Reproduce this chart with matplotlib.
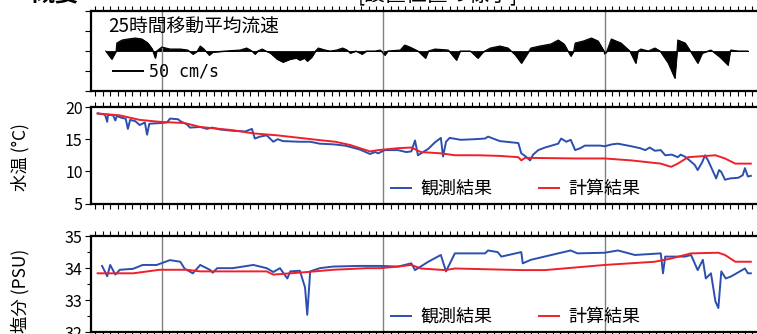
import numpy as np
import matplotlib.pyplot as plt
from matplotlib.ticker import MultipleLocator

plt.rcParams['font.family'] = ['Noto Sans CJK JP', 'DejaVu Sans']

# 25-hour moving average current (day, cm/s)
vel_day = [2.0, 2.8, 3.4, 3.5, 4.2, 5.0, 6.0, 6.9, 7.7, 8.3, 8.7, 8.9, 9.6, 10.7, 12.1, 13.1,
           13.8, 14.4, 14.8, 15.3, 16.0, 16.5, 18.2, 20.2, 21.1, 21.8, 22.2, 22.6, 23.2, 23.7,
           24.3, 25.2, 26.0, 27.0, 27.8, 28.3, 28.9, 29.3, 29.9, 30.4, 30.8, 31.7, 32.4, 33.3,
           34.1, 34.7, 35.1, 35.9, 36.7, 37.3, 38.5, 39.2, 39.8, 40.2, 41.9, 42.5, 43.2, 44.3,
           45.3, 45.7, 46.6, 48.4, 49.5, 50.0, 51.4, 52.4, 53.1, 54.1, 55.4, 56.5, 57.5, 58.3,
           58.9, 59.6, 60.8, 62.3, 63.3, 64.1, 65.0, 65.4, 65.6, 66.7, 67.8, 68.7, 69.5, 69.6,
           69.9, 70.5, 71.8, 73.0, 73.8, 74.1, 74.5, 75.5, 76.4, 77.1, 78.2, 79.1, 79.4, 79.5,
           80.5, 81.2, 82.2, 82.8, 84.0, 85.2, 86.3, 86.6, 86.7, 87.7, 89.0]
vel = [0, -12, 0, 12, 16.5, 18, 19.5, 18, 12, 3, -10.5, 0, 6, 3, 3, 1.5,
       -4.5, 0, 7.5, 3, -6, -1.5, 0, 1.5, 4.5, 0, -4.5, 0, 3, 0,
       -3, -12, -16.5, -12, -10.5, -13.5, -10.5, -15, -9, 0, 4.5, 1.5, 0, 1.5,
       4.5, 1.5, -3, 0, -4.5, 0, 0, 1.5, -6, 0, 1.5, 9, 6, 0,
       -10.5, 0, 3, 1.5, -13.5, 0, 0, -10.5, -1.5, 4.5, 7.5, 4.5, -6, -18,
       -7.5, 4.5, 7.5, 10.5, 16.5, 10.5, -7.5, 0, 12, 15, 19.5, 15, 0, -4.5,
       0, 18, 12, 0, -18, 0, 3, 0, 4.5, 0, -18, -40.5, 0, 16.5,
       12, 0, -18, -3, 1.5, -9, -21, 0, 1.5, 0, 0]

# water temperature
t_obs_day = [0.9, 1.5, 1.9, 2.2, 2.3, 3.0, 3.3, 3.5, 4.2, 4.7, 5.0, 5.3, 6.0, 6.6, 7.3, 7.6, 7.9,
             9.3, 10.3, 10.7, 11.8, 12.1, 13.0, 13.4, 14.8, 15.7, 16.4, 17.5, 19.2, 20.9, 21.8,
             22.2, 22.9, 23.8, 24.7, 25.3, 26.0, 28.3, 29.7, 31.0, 32.8, 34.4, 35.1, 36.4, 37.8,
             38.5, 38.9, 39.8, 41.6, 42.7, 43.4, 43.9, 44.3, 45.0, 45.7, 46.6, 47.4, 47.7, 48.1,
             48.6, 50.1, 52.0, 53.4, 53.8, 54.7, 55.4, 57.9, 58.3, 58.8, 59.5, 59.9, 60.6, 61.5,
             63.3, 63.7, 64.4, 65.0, 65.6, 66.3, 66.9, 69.0, 69.6, 70.6, 71.4, 73.2, 74.4, 75.1,
             75.7, 76.4, 77.2, 77.8, 78.7, 79.5, 79.9, 80.6, 81.3, 81.8, 82.2, 82.8, 83.2, 83.6,
             84.0, 84.7, 85.1, 85.4, 85.9, 86.6, 87.7, 88.3, 88.6, 89.0, 89.4]
t_obs = [19.0, 18.9, 18.8, 17.7, 18.8, 18.7, 17.9, 18.6, 18.3, 18.2, 16.6, 18.0, 17.8, 17.2, 17.6, 15.7, 17.4,
         17.5, 17.6, 18.2, 18.1, 17.8, 17.3, 16.8, 16.9, 16.6, 16.8, 16.5, 16.3, 16.2, 16.6,
         15.1, 15.4, 15.6, 14.6, 15.0, 14.7, 14.6, 14.6, 14.3, 14.2, 14.0, 13.8, 13.4, 12.7,
         13.0, 12.8, 13.3, 13.3, 13.0, 13.1, 14.8, 12.5, 13.0, 13.5, 14.5, 15.2, 12.3, 14.6,
         15.2, 14.9, 15.0, 15.1, 15.4, 15.0, 14.7, 14.4, 12.8, 12.4, 11.7, 12.6, 13.3, 13.7,
         14.3, 15.1, 14.6, 14.9, 13.3, 13.6, 14.0, 14.0, 13.9, 14.2, 14.3, 13.9, 13.6, 13.3,
         13.7, 13.2, 13.3, 12.5, 12.6, 12.2, 12.6, 12.2, 11.5, 11.0, 10.2, 11.4, 12.5, 11.7,
         10.7, 8.9, 10.2, 9.9, 8.7, 8.9, 9.0, 9.4, 10.5, 9.2, 9.3]
t_calc_day = [0.9, 3.9, 6.6, 9.3, 12.7, 14.8, 19.2, 22.0, 25.2, 28.3, 31.0, 33.1, 35.1, 37.8,
              38.9, 41.6, 43.4, 44.7, 47.4, 49.3, 52.4, 55.4, 57.9, 58.3, 58.8, 65.9, 69.6,
              73.2, 77.2, 78.6, 79.5, 80.9, 84.6, 85.9, 87.3, 89.4]
t_calc = [19.0, 18.7, 18.0, 17.7, 17.5, 16.9, 16.4, 15.9, 15.6, 15.2, 14.85, 14.6, 14.1, 13.1,
          13.3, 13.6, 13.7, 13.0, 12.8, 12.5, 12.5, 12.4, 12.2, 11.7, 12.1, 12.0, 12.0,
          11.7, 11.2, 10.7, 11.2, 12.2, 12.5, 12.0, 11.2, 11.2]

# salinity
s_obs_day = [1.5, 2.2, 2.6, 3.3, 3.9, 5.7, 7.0, 8.9, 10.7, 12.1, 12.7, 13.8, 14.8, 16.1, 16.5,
             17.1, 19.2, 22.0, 23.8, 24.7, 25.6, 26.6, 27.0, 28.3, 29.0, 29.3, 29.7, 31.0, 32.8,
             36.4, 39.2, 41.6, 43.4, 43.9, 45.7, 47.4, 48.1, 49.3, 53.4, 53.8, 55.1, 55.6, 58.3,
             58.5, 59.6, 63.3, 65.0, 65.9, 69.6, 71.4, 73.7, 77.2, 77.5, 77.8, 80.5, 81.3, 82.2,
             82.9, 83.3, 84.0, 84.6, 85.0, 85.4, 86.0, 86.7, 88.6, 89.0, 89.4]
s_obs = [34.07, 33.75, 34.1, 33.8, 33.95, 33.98, 34.1, 34.1, 34.25, 34.2, 33.98, 33.84, 34.1, 33.95, 33.86,
         34.0, 34.0, 34.1, 34.0, 33.88, 34.0, 33.68, 33.9, 33.92, 33.4, 32.55, 33.9, 34.0, 34.05,
         34.07, 34.07, 34.05, 34.15, 33.94, 34.2, 34.41, 33.9, 34.46, 34.46, 34.55, 34.5, 34.36, 34.5,
         34.15, 34.26, 34.46, 34.55, 34.46, 34.48, 34.55, 34.41, 34.46, 33.84, 34.36, 34.36, 34.41, 33.94,
         34.26, 33.68, 33.84, 32.97, 32.76, 33.9, 33.68, 33.74, 33.99, 33.84, 33.84]
s_calc_day = [0.9, 5.7, 9.3, 13.0, 14.8, 23.8, 24.7, 27.0, 29.3, 32.8, 37.4, 39.2, 41.6, 43.4,
              44.7, 48.0, 49.3, 58.3, 61.5, 69.6, 76.4, 78.6, 81.3, 85.0, 85.9, 87.3, 89.4]
s_calc = [33.84, 33.84, 33.95, 33.95, 33.9, 33.9, 33.8, 33.84, 33.88, 33.95, 34.0, 34.0, 34.05, 34.1,
          33.99, 33.94, 33.99, 33.94, 33.94, 34.1, 34.2, 34.3, 34.46, 34.48, 34.41, 34.2, 34.2]

blue = '#2a4fae'
red = '#f0202a'

fig = plt.figure(figsize=(7.57, 3.34), dpi=100)
W = 0.897
L = 0.1202
ax1 = fig.add_axes([L, 0.7275, W, 0.2395])
ax2 = fig.add_axes([L, 0.3907, W, 0.2889])
ax3 = fig.add_axes([L, 0.0045, W, 0.2889])

for ax in (ax1, ax2, ax3):
    ax.set_xlim(0, 92)
    ax.xaxis.set_major_locator(MultipleLocator(30, offset=9.6))
    ax.xaxis.set_minor_locator(MultipleLocator(1, offset=0.6))
    ax.tick_params(axis='x', which='both', top=True, bottom=True, direction='out',
                   labelbottom=False, length=3.5, width=0.8)
    ax.tick_params(axis='y', which='major', direction='out', length=4, width=0.8,
                   labelsize=11.5, pad=2)
    ax.tick_params(axis='y', which='minor', direction='out', length=3, width=0.8)
    for sp in ax.spines.values():
        sp.set_linewidth(1.6)
    ax.grid(axis='x', which='major', color='#808080', lw=1)

# panel 1
ax1.fill_between(vel_day, 0, vel, color='black', lw=0.6)
ax1.plot(vel_day, vel, color='black', lw=0.8)
ax1.set_ylim(-60, 60)
ax1.yaxis.set_major_locator(MultipleLocator(30))
ax1.tick_params(axis='y', labelleft=False)
ax1.text(0.025, 0.93, '25時間移動平均流速', transform=ax1.transAxes, fontsize=13.5, va='top')
ax1.plot([0.032, 0.076], [0.25, 0.25], transform=ax1.transAxes, color='black', lw=1.4)
ax1.text(0.085, 0.25, '50 cm/s', transform=ax1.transAxes, fontsize=12, va='center',
         family=['DejaVu Sans Mono', 'DejaVu Sans'])

# panel 2
ax2.plot(t_obs_day, t_obs, color=blue, lw=1.4, label='観測結果')
ax2.plot(t_calc_day, t_calc, color=red, lw=1.4, label='計算結果')
ax2.set_ylim(5, 20)
ax2.set_yticks([5, 10, 15, 20])

# panel 3
ax3.plot(s_obs_day, s_obs, color=blue, lw=1.4, label='観測結果')
ax3.plot(s_calc_day, s_calc, color=red, lw=1.4, label='計算結果')
ax3.set_ylim(32, 35)
ax3.set_yticks([32, 33, 34, 35])
ax3.yaxis.set_minor_locator(MultipleLocator(0.5))

for ax, yy in ((ax2, 0.15), (ax3, 0.16)):
    ax.legend(loc='center left', bbox_to_anchor=(0.442, yy), ncol=2, frameon=False,
              fontsize=13, handlelength=1.1, handletextpad=0.5, columnspacing=2.6,
              borderpad=0, borderaxespad=0)

fig.text(20 / 757, 0.53, '水温 (°C)', rotation=90, ha='center', va='center', fontsize=12.5)
fig.text(20 / 757, 0.13, '塩分 (PSU)', rotation=90, ha='center', va='center', fontsize=12.5)

# top titles (cropped in original)
fig.text(30 / 757, 0.982, '概要', fontsize=18, fontweight='bold', va='bottom')
fig.text(358 / 757, 0.982, '[設置位置の様子]', fontsize=15, va='bottom')

fig.savefig('out.png', dpi=100)
